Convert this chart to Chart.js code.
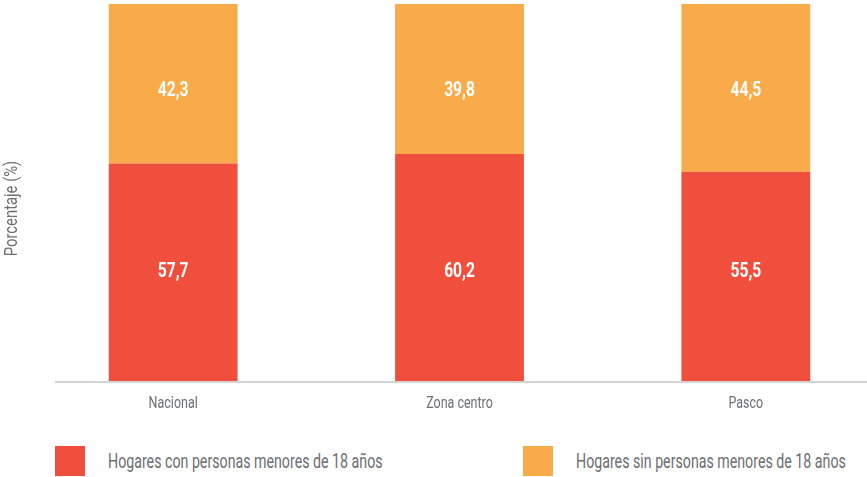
<!DOCTYPE html>
<html>
<head>
<meta charset="utf-8">
<script src="https://cdn.jsdelivr.net/npm/chart.js@4"></script>
<style>
    body { margin: 0; width: 867px; height: 477px; overflow: hidden; background: #fff; position: relative; }
    #wrap { position: absolute; left: 0; top: 0; width: 890px; height: 425px; }
    .leg { position: absolute; top: 446px; height: 30px; display: flex; align-items: center; white-space: nowrap;
           font-family: Roboto, sans-serif; font-size: 20px; color: #6d6e71; }
    .leg span.box { width: 30px; height: 30px; display: inline-block; margin-right: 23px; flex: none; }
    .leg span.txt { display: inline-block; transform: scaleX(0.71); transform-origin: left center; }
</style>
</head>
<body>
<div id="wrap"><canvas id="myBarChart" width="890" height="425"></canvas></div>
<div class="leg" style="left:55px"><span class="box" style="background:#f04f3e"></span><span class="txt" id="leg0"></span></div>
<div class="leg" style="left:523px"><span class="box" style="background:#f9ab4a"></span><span class="txt" id="leg1"></span></div>
<script>
// Categorías y valores (%)
var categorias = ['Nacional', 'Zona centro', 'Pasco'];
var conMenores = [57.7, 60.2, 55.5];
var sinMenores = [42.3, 39.8, 44.5];
var nombresSeries = ['Hogares con personas menores de 18 años', 'Hogares sin personas menores de 18 años'];
var tituloY = 'Porcentaje (%)';
// altura (en %) donde van las etiquetas de cada serie, igual en las tres barras
var alturaEtiqueta = [29, 77];

var fuente = 'Roboto, sans-serif';
var gris = '#6d6e71';
var estrecho = 0.78; // la fuente original es condensada

document.getElementById('leg0').textContent = nombresSeries[0];
document.getElementById('leg1').textContent = nombresSeries[1];

function textoEstrecho(ctx, texto, x, y, font, color, rot) {
    ctx.save();
    ctx.translate(x, y);
    if (rot) ctx.rotate(rot);
    ctx.scale(estrecho, 1);
    ctx.font = font;
    ctx.fillStyle = color;
    ctx.textAlign = 'center';
    ctx.textBaseline = 'middle';
    ctx.fillText(texto, 0, 0);
    ctx.restore();
}

// Valores dentro de las barras, categorías, línea base y título del eje
var textos = {
    id: 'textos',
    afterDatasetsDraw: function(chart) {
        var ctx = chart.ctx;
        var area = chart.chartArea;
        var xs = chart.scales.x;
        var ys = chart.scales.y;

        ctx.save();
        ctx.strokeStyle = '#d4d4d4';
        ctx.lineWidth = 2;
        ctx.beginPath();
        ctx.moveTo(55, area.bottom + 1);
        ctx.lineTo(area.right, area.bottom + 1);
        ctx.stroke();
        ctx.restore();

        chart.data.datasets.forEach(function(ds, i) {
            chart.getDatasetMeta(i).data.forEach(function(bar, j) {
                textoEstrecho(ctx, ds.data[j].toFixed(1).replace('.', ','), bar.x,
                    ys.getPixelForValue(alturaEtiqueta[i]), 'bold 20px ' + fuente, '#ffffff');
            });
        });
        categorias.forEach(function(c, i) {
            textoEstrecho(ctx, c, xs.getPixelForValue(i), area.bottom + 23, '16px ' + fuente, gris);
        });
        textoEstrecho(ctx, tituloY, 12, (area.top + area.bottom) / 2 + 16, '19px ' + fuente, gris, -Math.PI / 2);
    }
};

var ctx = document.getElementById('myBarChart').getContext('2d');
var chart = new Chart(ctx, {
    type: 'bar',
    data: {
        labels: categorias,
        datasets: [
            { label: nombresSeries[0], data: conMenores, backgroundColor: '#f04f3e' },
            { label: nombresSeries[1], data: sinMenores, backgroundColor: '#f9ab4a' }
        ]
    },
    options: {
        responsive: false,
        animation: false,
        categoryPercentage: 0.5,
        barPercentage: 0.9,
        layout: { padding: { top: 4, left: 30, right: 1, bottom: 44 } },
        plugins: {
            legend: { display: false },
            tooltip: { enabled: false }
        },
        scales: {
            x: {
                stacked: true,
                grid: { display: false, drawTicks: false },
                border: { display: false },
                ticks: { display: false }
            },
            y: {
                display: false,
                stacked: true,
                min: 0,
                max: 100
            }
        }
    },
    plugins: [textos]
});
</script>
</body>
</html>
